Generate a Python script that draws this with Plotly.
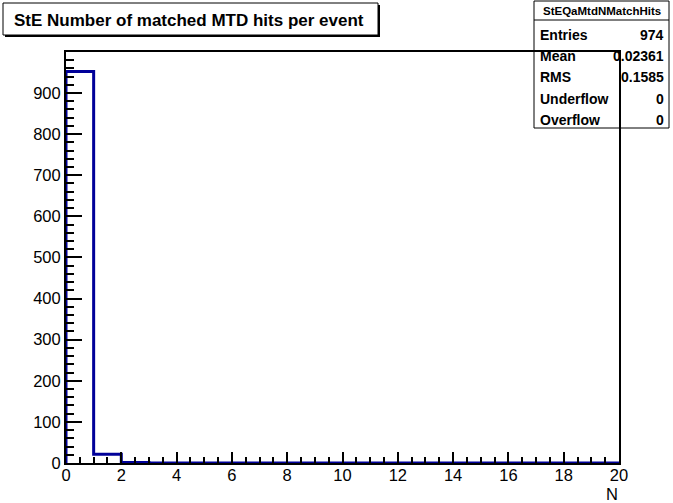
import plotly.graph_objects as go

# ---- data ----
bin_edges = list(range(0, 21))
counts = [952, 21, 1, 0, 0, 0, 0, 0, 0, 0, 0, 0, 0, 0, 0, 0, 0, 0, 0, 0]
title_text = "StE Number of matched MTD hits per event"
hist_name = "StEQaMtdNMatchHits"
stat_names = ["Entries", "Mean", "RMS", "Underflow", "Overflow"]
stat_values = ["974", "0.02361", "0.1585", "0", "0"]
x_title = "N"

W, H = 673, 503
L, R, T, B = 66, 619, 52, 463
ymax = max(counts) * 1.05


def px(x):
    return (x - L) / (R - L)


def py(y):
    return (B - y) / (B - T)


# step outline of histogram
x_pts = [bin_edges[0]] + bin_edges[:-1] + [bin_edges[-1]]
y_pts = [0] + counts + [counts[-1]]

FONT = "Liberation Sans, Arial, Helvetica, sans-serif"

fig = go.Figure()
fig.add_trace(go.Scatter(
    x=x_pts, y=y_pts, mode="lines", line=dict(shape="hv", color="#000099", width=3),
    cliponaxis=False, showlegend=False, hoverinfo="skip"))

fig.update_xaxes(
    range=[0, 20], dtick=2, tick0=0, ticks="inside", ticklen=11, tickwidth=1.5,
    tickcolor="black", showline=True, linecolor="black", linewidth=2, mirror=True,
    showgrid=False, zeroline=False, tickfont=dict(family=FONT, size=16.5, color="black"),
    ticklabelstandoff=-4,
    minor=dict(dtick=0.5, ticks="inside", ticklen=6, tickwidth=1.5, tickcolor="black", showgrid=False),
)
fig.update_yaxes(
    range=[0, ymax], dtick=100, tick0=0, ticks="inside", ticklen=16, tickwidth=1.5,
    tickcolor="black", showline=True, linecolor="black", linewidth=2, mirror=True,
    showgrid=False, zeroline=False, tickfont=dict(family=FONT, size=16.5, color="black"),
    minor=dict(dtick=20, ticks="inside", ticklen=8, tickwidth=1.5, tickcolor="black", showgrid=False),
)

shapes = []
annotations = []

# title box with shadow
shapes.append(dict(type="rect", xref="paper", yref="paper", layer="above",
                   x0=px(5), x1=px(380), y0=py(37), y1=py(5),
                   fillcolor="black", line=dict(width=0)))
shapes.append(dict(type="rect", xref="paper", yref="paper", layer="above",
                   x0=px(3), x1=px(378), y0=py(35), y1=py(3),
                   fillcolor="white", line=dict(color="black", width=1)))
annotations.append(dict(xref="paper", yref="paper", x=px(189), y=py(20), text="<b>%s</b>" % title_text,
                        showarrow=False, xanchor="center", yanchor="middle",
                        font=dict(family=FONT, size=17, color="black")))

# stats box
sx0, sx1, sy0, sy1 = 534, 669, 1, 128
shapes.append(dict(type="rect", xref="paper", yref="paper", layer="below",
                   x0=px(sx0), x1=px(sx1), y0=py(sy1), y1=py(sy0),
                   fillcolor="white", line=dict(color="black", width=1)))
shapes.append(dict(type="line", xref="paper", yref="paper", layer="below",
                   x0=px(sx0), x1=px(sx1), y0=py(20), y1=py(20),
                   line=dict(color="black", width=1)))
annotations.append(dict(xref="paper", yref="paper", x=px((sx0 + sx1) / 2), y=py(11),
                        text="<b>%s</b>" % hist_name, showarrow=False,
                        xanchor="center", yanchor="middle",
                        font=dict(family=FONT, size=11.5, color="black")))
for i, (n, v) in enumerate(zip(stat_names, stat_values)):
    yc = 35 + 21.2 * i
    annotations.append(dict(xref="paper", yref="paper", x=px(538), y=py(yc), text="<b>%s</b>" % n,
                            showarrow=False, xanchor="left", yanchor="middle",
                            font=dict(family=FONT, size=14, color="black")))
    annotations.append(dict(xref="paper", yref="paper", x=px(666), y=py(yc), text="<b>%s</b>" % v,
                            showarrow=False, xanchor="right", yanchor="middle",
                            font=dict(family=FONT, size=14, color="black")))

# x-axis title
annotations.append(dict(xref="paper", yref="paper", x=px(612), y=py(494), text=x_title,
                        showarrow=False, xanchor="center", yanchor="middle",
                        font=dict(family=FONT, size=16.5, color="black")))

fig.update_layout(
    width=W, height=H,
    margin=dict(l=L, r=W - R, t=T, b=H - B, pad=0),
    paper_bgcolor="white", plot_bgcolor="white",
    shapes=shapes, annotations=annotations,
    showlegend=False,
)

fig.write_html("out.html", config={"displayModeBar": False},
               post_script="document.body.style.margin='0';")
